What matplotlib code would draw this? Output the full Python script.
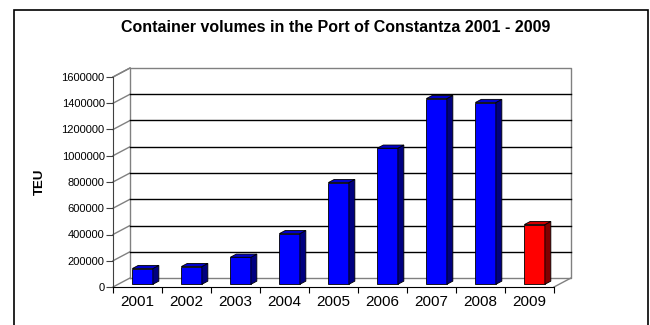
import numpy as np
import matplotlib
matplotlib.use("Agg")
import matplotlib.pyplot as plt
from matplotlib.patches import Rectangle

plt.rcParams['font.family'] = ['Liberation Sans', 'DejaVu Sans']

years = ['2001', '2002', '2003', '2004', '2005', '2006', '2007', '2008', '2009']
teu = [120000, 135000, 206000, 386000, 775000, 1037000, 1415000, 1385000, 455000]
yticks = [0, 200000, 400000, 600000, 800000, 1000000, 1200000, 1400000, 1600000]
title = 'Container volumes in the Port of Constantza 2001 - 2009'

W, H = 650, 325
fig = plt.figure(figsize=(6.5, 3.25), dpi=100)
fig.patch.set_facecolor('white')

# front plane of the 3d box in pixels
L, R, B, T = 113, 554, 287, 77
ax = fig.add_axes([L / W, (H - B) / H, (R - L) / W, (B - T) / H])
n = len(years)
ymax = yticks[-1]
ax.set_xlim(-0.5, n - 0.5)
ax.set_ylim(0, ymax)
ax.patch.set_alpha(0)

# depth offset (px -> data)
px_x = n / (R - L)
px_y = ymax / (B - T)
DX, DY = 17 * px_x, 9 * px_y
x0, x1 = -0.5, n - 0.5

wall = dict(color='#808080', lw=1, clip_on=False, zorder=1)
# back wall, side wall, floor outlines
ax.plot([x0 + DX, x1 + DX, x1 + DX, x0 + DX, x0 + DX],
        [DY, DY, ymax + DY, ymax + DY, DY], **wall)
ax.plot([x0, x0 + DX], [ymax, ymax + DY], **wall)
ax.plot([x1, x1 + DX], [0, DY], **wall)
for t in yticks:
    ax.plot([x0, x0 + DX], [t, t + DY], **wall)
    if 0 < t < ymax:
        ax.plot([x0 + DX, x1 + DX], [t + DY, t + DY], color='black', lw=1.0,
                clip_on=False, zorder=1)

# bars with fake depth
fr, bk = 0.3, 0.65
w = 0.42
bdx, bdy = (bk - fr) * DX, (bk - fr) * DY
base = fr * DY
for i, v in enumerate(teu):
    red = years[i] == '2009'
    fc, sc, tc = ('#FF0000', '#800000', '#D00000') if red else ('#0000FF', '#000080', '#0000CC')
    xc = i + fr * DX
    ax.bar(xc, v, bottom=base, width=w, color=fc, edgecolor='black', lw=0.6,
           clip_on=False, zorder=3)
    xr, xl = xc + w / 2, xc - w / 2
    top = base + v
    ax.fill([xr, xr + bdx, xr + bdx, xr], [base, base + bdy, top + bdy, top],
            color=sc, ec='black', lw=0.6, clip_on=False, zorder=3)
    ax.fill([xl, xr, xr + bdx, xl + bdx], [top, top, top + bdy, top + bdy],
            color=tc, ec='black', lw=0.6, clip_on=False, zorder=3)

for s in ['top', 'right']:
    ax.spines[s].set_visible(False)
ax.spines['left'].set_color('#404040')
ax.spines['bottom'].set_color('black')
ax.set_yticks(yticks)
ax.set_yticklabels([str(t) for t in yticks], fontsize=8)
ax.tick_params(axis='y', length=5, width=0.8, pad=1, color='#404040')
ax.set_xticks(range(n))
ax.set_xticklabels(years, fontsize=11)
ax.set_xticks(np.arange(-0.5, n), minor=True)
ax.tick_params(axis='x', which='major', length=0, pad=6)
ax.tick_params(axis='x', which='minor', length=4, width=0.8)

ax.set_ylabel('TEU', fontsize=9.5, fontweight='bold', labelpad=11)
fig.text(336 / W, 1 - 27 / H, title, ha='center', va='center',
         fontsize=11.5, fontweight='bold')

# outer frame
fig.patches.append(Rectangle((14 / W, -0.1), (648 - 14) / W, 1.1 - 10 / H,
                             transform=fig.transFigure, fill=False,
                             ec='black', lw=1.2))

fig.savefig('out.png', dpi=100)
